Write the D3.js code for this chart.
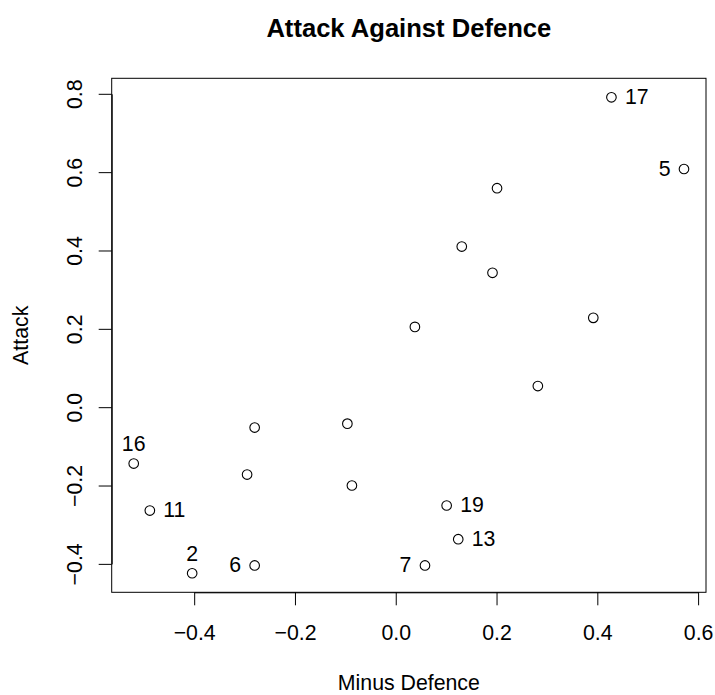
<!DOCTYPE html>
<html lang="en">
<head>
  <meta charset="UTF-8">
  <title>Attack Against Defence</title>
  <script src="https://d3js.org/d3.v7.min.js"></script>
  <style>
    body { margin: 0; background: #fff; }
    svg text { font-family: "Liberation Sans", Arial, Helvetica, sans-serif; fill: #000; }
  </style>
</head>
<body>
  <svg id="chart" width="715" height="695"></svg>
  <script>
    // team ids, minus defence (x) and attack (y)
    const teamIds = [17, 5, 1, 3, 4, 8, 9, 10, 12, 14, 16, 15, 18, 11, 19, 13, 2, 6, 7];
    const minusDefence = [0.428, 0.572, 0.201, 0.131, 0.192, 0.038, 0.392, 0.282, -0.280, -0.096,
                          -0.520, -0.295, -0.087, -0.488, 0.101, 0.124, -0.404, -0.280, 0.058];
    const attack = [0.791, 0.608, 0.559, 0.410, 0.343, 0.205, 0.228, 0.054, -0.052, -0.042,
                    -0.144, -0.172, -0.200, -0.264, -0.251, -0.337, -0.424, -0.404, -0.404];

    // which teams get a label and on which side (R text pos: 2 left, 3 above, 4 right)
    const labelIds = [17, 5, 16, 11, 19, 13, 2, 6, 7];
    const labelPos = [4, 2, 3, 4, 4, 4, 3, 2, 2];

    const xTicks = [-0.4, -0.2, 0.0, 0.2, 0.4, 0.6];
    const yTicks = [-0.4, -0.2, 0.0, 0.2, 0.4, 0.6, 0.8];

    const box = { left: 111.7, right: 706, top: 78.3, bottom: 592.3 };
    const fontSize = 21.3;

    const svg = d3.select("#chart");

    // R style 4% padding around the data range
    function pad(ext) {
      const d = (ext[1] - ext[0]) * 0.04;
      return [ext[0] - d, ext[1] + d];
    }

    const x = d3.scaleLinear().domain(pad(d3.extent(minusDefence))).range([box.left, box.right]);
    const y = d3.scaleLinear().domain(pad(d3.extent(attack))).range([box.bottom, box.top]);

    const fmt = v => d3.format(".1f")(v).replace("-", "\u2212");

    // axes only run from first to last tick, like base R
    const xAxisScale = x.copy().domain([xTicks[0], xTicks[xTicks.length - 1]])
      .range([x(xTicks[0]), x(xTicks[xTicks.length - 1])]);
    const yAxisScale = y.copy().domain([yTicks[0], yTicks[yTicks.length - 1]])
      .range([y(yTicks[0]), y(yTicks[yTicks.length - 1])]);

    const xAxis = svg.append("g")
      .attr("transform", `translate(0,${box.bottom})`)
      .call(d3.axisBottom(xAxisScale).tickValues(xTicks).tickSize(13).tickSizeOuter(0).tickFormat(fmt));
    xAxis.selectAll("path, line").attr("stroke", "#000").attr("stroke-width", 1);
    xAxis.selectAll("text")
      .attr("y", 47.7).attr("dy", null)
      .style("font-size", fontSize + "px")
      .style("font-family", "'Liberation Sans', Arial, sans-serif")
      .attr("fill", "#000");

    const yAxis = svg.append("g")
      .attr("transform", `translate(${box.left},0)`)
      .call(d3.axisLeft(yAxisScale).tickValues(yTicks).tickSize(13).tickSizeOuter(0).tickFormat(fmt));
    yAxis.selectAll("path, line").attr("stroke", "#000").attr("stroke-width", 1);
    yAxis.selectAll(".tick text")
      .attr("x", null).attr("dy", null).attr("y", null)
      .attr("text-anchor", "middle")
      .attr("transform", "translate(-30,0) rotate(-90)")
      .style("font-size", fontSize + "px")
      .style("font-family", "'Liberation Sans', Arial, sans-serif")
      .attr("fill", "#000");

    // plot box
    svg.append("rect")
      .attr("x", box.left).attr("y", box.top)
      .attr("width", box.right - box.left).attr("height", box.bottom - box.top)
      .attr("fill", "none").attr("stroke", "#000").attr("stroke-width", 1);

    const points = teamIds.map((id, i) => ({ id, x: minusDefence[i], y: attack[i] }));

    svg.append("g").selectAll("circle")
      .data(points)
      .join("circle")
      .attr("cx", d => x(d.x))
      .attr("cy", d => y(d.y))
      .attr("r", 4.8)
      .attr("fill", "none")
      .attr("stroke", "#000")
      .attr("stroke-width", 1.1);

    const labels = labelIds.map((id, i) => {
      const p = points.find(d => d.id === id);
      return { id, pos: labelPos[i], cx: x(p.x), cy: y(p.y) };
    });

    svg.append("g").selectAll("text")
      .data(labels)
      .join("text")
      .attr("x", d => d.pos === 4 ? d.cx + 13.5 : d.pos === 2 ? d.cx - 13.5 : d.cx)
      .attr("y", d => d.pos === 3 ? d.cy - 12.5 : d.cy + 6.5)
      .attr("text-anchor", d => d.pos === 4 ? "start" : d.pos === 2 ? "end" : "middle")
      .style("font-size", fontSize + "px")
      .text(d => d.id);

    // titles
    svg.append("text")
      .attr("x", (box.left + box.right) / 2).attr("y", 37)
      .attr("text-anchor", "middle")
      .style("font-size", "25.6px").style("font-weight", "bold")
      .text("Attack Against Defence");

    svg.append("text")
      .attr("x", (box.left + box.right) / 2).attr("y", 690)
      .attr("text-anchor", "middle")
      .style("font-size", fontSize + "px")
      .text("Minus Defence");

    svg.append("text")
      .attr("transform", `translate(28.3,${(box.top + box.bottom) / 2}) rotate(-90)`)
      .attr("text-anchor", "middle")
      .style("font-size", fontSize + "px")
      .text("Attack");
  </script>
</body>
</html>
